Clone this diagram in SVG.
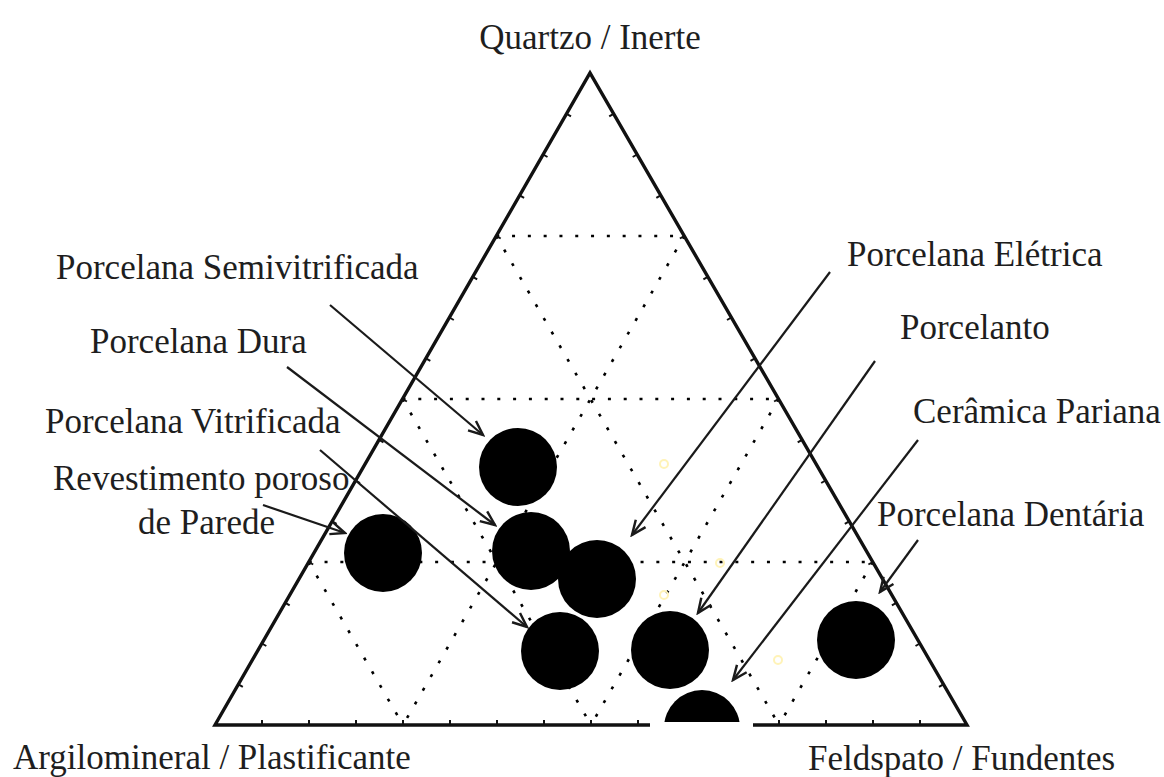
<svg xmlns="http://www.w3.org/2000/svg" width="1164" height="777" viewBox="0 0 1164 777">
  <style>
    .lbl { font-family: "Liberation Serif", "Times New Roman", serif; font-size: 35px; fill: #1e1e1e; }
    .grid { fill: none; stroke: #000; stroke-width: 2.6; stroke-dasharray: 3 12.8; }
    .side { fill: none; stroke: #111; stroke-width: 3.4; stroke-linejoin: miter; }
    .tick { stroke: #111; stroke-width: 2; }
    .dot { fill: #000; }
    .ring { fill: none; stroke: #fff3b8; stroke-width: 2; }
    .arrow { fill: none; stroke: #1a1a1a; stroke-width: 2.2; marker-end: url(#open); }
  </style>
  <defs>
    <marker id="open" markerUnits="userSpaceOnUse" markerWidth="20" markerHeight="20" viewBox="-16 -8 18 16" refX="0" refY="0" orient="auto">
      <path d="M-13,-5.5 L0,0 L-13,5.5" fill="none" stroke="#1a1a1a" stroke-width="2.2"/>
    </marker>
    <clipPath id="baseClip">
      <rect x="0" y="0" width="1164" height="722"/>
    </clipPath>
  </defs>

  <rect width="1164" height="777" fill="#fff"/>

  <!-- 25% composition grid -->
  <g id="grid">
    <line class="grid" x1="496.25" y1="236" x2="684.25" y2="236"/>
    <line class="grid" x1="402.5" y1="399" x2="778.5" y2="399"/>
    <line class="grid" x1="308.75" y1="562" x2="872.75" y2="562"/>
    <line class="grid" x1="496.25" y1="236" x2="779" y2="725"/>
    <line class="grid" x1="402.5" y1="399" x2="591" y2="725"/>
    <line class="grid" x1="308.75" y1="562" x2="403" y2="725"/>
    <line class="grid" x1="684.25" y1="236" x2="403" y2="725"/>
    <line class="grid" x1="778.5" y1="399" x2="591" y2="725"/>
    <line class="grid" x1="872.75" y1="562" x2="779" y2="725"/>
  </g>

  <!-- triangle frame with ticks every 1/16 -->
  <g id="frame">
    <path class="side" d="M650,725 L215,725 L590,73 L967,725 L753,725"/>
    <g id="ticks-bottom">
      <line class="tick" x1="262" y1="725" x2="262" y2="720"/>
      <line class="tick" x1="309" y1="725" x2="309" y2="720"/>
      <line class="tick" x1="356" y1="725" x2="356" y2="720"/>
      <line class="tick" x1="403" y1="725" x2="403" y2="720"/>
      <line class="tick" x1="450" y1="725" x2="450" y2="720"/>
      <line class="tick" x1="497" y1="725" x2="497" y2="720"/>
      <line class="tick" x1="544" y1="725" x2="544" y2="720"/>
      <line class="tick" x1="591" y1="725" x2="591" y2="720"/>
      <line class="tick" x1="638" y1="725" x2="638" y2="720"/>
      <line class="tick" x1="779" y1="725" x2="779" y2="720"/>
      <line class="tick" x1="826" y1="725" x2="826" y2="720"/>
      <line class="tick" x1="873" y1="725" x2="873" y2="720"/>
      <line class="tick" x1="920" y1="725" x2="920" y2="720"/>
    </g>
    <g id="ticks-left">
      <line class="tick" x1="566.6" y1="113.8" x2="571" y2="116.3"/>
      <line class="tick" x1="543.1" y1="154.5" x2="547.5" y2="157"/>
      <line class="tick" x1="519.7" y1="195.3" x2="524.1" y2="197.8"/>
      <line class="tick" x1="496.3" y1="236" x2="500.7" y2="238.5"/>
      <line class="tick" x1="472.8" y1="276.8" x2="477.2" y2="279.3"/>
      <line class="tick" x1="449.4" y1="317.5" x2="453.8" y2="320"/>
      <line class="tick" x1="425.9" y1="358.3" x2="430.3" y2="360.8"/>
      <line class="tick" x1="402.5" y1="399" x2="406.9" y2="401.5"/>
      <line class="tick" x1="379.1" y1="439.8" x2="383.5" y2="442.3"/>
      <line class="tick" x1="355.6" y1="480.5" x2="360" y2="483"/>
      <line class="tick" x1="332.2" y1="521.3" x2="336.6" y2="523.8"/>
      <line class="tick" x1="308.8" y1="562" x2="313.2" y2="564.5"/>
      <line class="tick" x1="285.3" y1="602.8" x2="289.7" y2="605.3"/>
      <line class="tick" x1="261.9" y1="643.5" x2="266.3" y2="646"/>
      <line class="tick" x1="238.4" y1="684.3" x2="242.8" y2="686.8"/>
    </g>
    <g id="ticks-right">
      <line class="tick" x1="613.6" y1="113.8" x2="609.2" y2="116.3"/>
      <line class="tick" x1="637.1" y1="154.5" x2="632.7" y2="157"/>
      <line class="tick" x1="660.7" y1="195.3" x2="656.3" y2="197.8"/>
      <line class="tick" x1="684.3" y1="236" x2="679.9" y2="238.5"/>
      <line class="tick" x1="707.8" y1="276.8" x2="703.4" y2="279.3"/>
      <line class="tick" x1="731.4" y1="317.5" x2="727" y2="320"/>
      <line class="tick" x1="754.9" y1="358.3" x2="750.5" y2="360.8"/>
      <line class="tick" x1="778.5" y1="399" x2="774.1" y2="401.5"/>
      <line class="tick" x1="802.1" y1="439.8" x2="797.7" y2="442.3"/>
      <line class="tick" x1="825.6" y1="480.5" x2="821.2" y2="483"/>
      <line class="tick" x1="849.2" y1="521.3" x2="844.8" y2="523.8"/>
      <line class="tick" x1="872.8" y1="562" x2="868.4" y2="564.5"/>
      <line class="tick" x1="896.3" y1="602.8" x2="891.9" y2="605.3"/>
      <line class="tick" x1="919.9" y1="643.5" x2="915.5" y2="646"/>
      <line class="tick" x1="943.4" y1="684.3" x2="939" y2="686.8"/>
    </g>
  </g>

  <!-- faint sample markers -->
  <g id="samples">
    <circle class="ring" cx="664" cy="464" r="4"/>
    <circle class="ring" cx="720" cy="563" r="4"/>
    <circle class="ring" cx="664" cy="595" r="4"/>
    <circle class="ring" cx="778" cy="660" r="4"/>
  </g>

  <!-- vertex labels -->
  <g id="vertex-quartzo"><text class="lbl" x="590" y="49" text-anchor="middle">Quartzo / Inerte</text></g>
  <g id="vertex-argilomineral"><text class="lbl" x="13" y="769">Argilomineral / Plastificante</text></g>
  <g id="vertex-feldspato"><text class="lbl" x="808" y="770">Feldspato / Fundentes</text></g>

  <!-- product fields -->
  <g id="semivitrificada">
    <circle class="dot" cx="518" cy="467" r="39"/>
    <text class="lbl" x="56" y="279">Porcelana Semivitrificada</text>
  </g>
  <g id="dura">
    <circle class="dot" cx="531" cy="551" r="39"/>
    <text class="lbl" x="90" y="353">Porcelana Dura</text>
  </g>
  <g id="vitrificada">
    <circle class="dot" cx="560" cy="651" r="39"/>
    <text class="lbl" x="45" y="433">Porcelana Vitrificada</text>
  </g>
  <g id="revestimento">
    <circle class="dot" cx="383" cy="553" r="39"/>
    <text class="lbl" x="53" y="490">Revestimento poroso</text>
    <text class="lbl" x="138" y="534">de Parede</text>
  </g>
  <g id="eletrica">
    <circle class="dot" cx="597" cy="579" r="39"/>
    <text class="lbl" x="847" y="266">Porcelana Elétrica</text>
  </g>
  <g id="porcelanto">
    <circle class="dot" cx="670" cy="650" r="39"/>
    <text class="lbl" x="900" y="339">Porcelanto</text>
  </g>
  <g id="pariana">
    <circle class="dot" cx="702" cy="728" r="38" clip-path="url(#baseClip)"/>
    <text class="lbl" x="913" y="423">Cerâmica Pariana</text>
  </g>
  <g id="dentaria">
    <circle class="dot" cx="856" cy="640" r="39"/>
    <text class="lbl" x="877" y="526">Porcelana Dentária</text>
  </g>

  <!-- leader arrows -->
  <g id="connectors">
    <line class="arrow" x1="330" y1="305" x2="483" y2="435"/>
    <line class="arrow" x1="287" y1="367" x2="495" y2="525"/>
    <line class="arrow" x1="320" y1="450" x2="527" y2="627"/>
    <line class="arrow" x1="263" y1="505" x2="345" y2="533"/>
    <line class="arrow" x1="830" y1="272" x2="632" y2="535"/>
    <line class="arrow" x1="875" y1="361" x2="698" y2="613"/>
    <line class="arrow" x1="918" y1="440" x2="733" y2="680"/>
    <line class="arrow" x1="918" y1="540" x2="880" y2="592"/>
  </g>
</svg>
